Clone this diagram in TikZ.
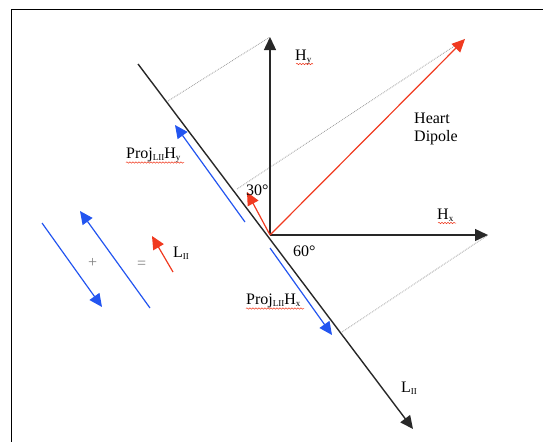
\documentclass[tikz,border=0pt]{standalone}
\usepackage{fontspec}
\setmainfont{Liberation Serif}
\usetikzlibrary{arrows.meta,decorations.pathmorphing}
\definecolor{myred}{RGB}{240,58,32}
\definecolor{myblue}{RGB}{35,85,240}
\definecolor{axisgray}{RGB}{40,40,40}
\newcommand{\sbx}[1]{\raisebox{-0.35ex}{\fontsize{9}{9}\selectfont #1}}
\begin{document}
\begin{tikzpicture}[x=1pt,y=-1pt,
  tip/.style={-{Triangle[length=13pt,width=12pt]}},
  axisline/.style={draw=axisgray,line width=1.4pt,tip},
  redvec/.style={draw=myred,line width=1.2pt,-{Triangle[length=13pt,width=12pt]},myred},
  bluevec/.style={draw=myblue,line width=1.2pt,-{Triangle[length=13pt,width=12pt]},myblue},
  projline/.style={draw=gray!80,line width=0.8pt,densely dotted},
  lbl/.style={font=\fontsize{16}{18}\selectfont,inner sep=0pt,anchor=base west},
  wavy/.style={draw=myred,line width=0.5pt,decorate,decoration={snake,segment length=3pt,amplitude=0.7pt}}]
\useasboundingbox (0,0) rectangle (543,442);
% frame
\draw[line width=1.3pt] (543,9.5) -- (11.5,9.5) -- (11.5,442);
% coordinates
\coordinate (O) at (270,235);
\coordinate (Hy) at (270,37);
\coordinate (Hx) at (488,235);
\coordinate (Ltop) at (138,64);
\coordinate (Lbot) at (413,429);
\coordinate (Dtip) at (465,39);
\coordinate (Rs) at (247,192);
\coordinate (BYa) at (245,222);
\coordinate (BYb) at (175,125);
\coordinate (BXa) at (270,248);
\coordinate (BXb) at (332,335);
\coordinate (P1) at (168,101);
\coordinate (P2) at (237,189);
\coordinate (P3) at (342,332);
% projection lines
\draw[projline] (P1) -- (Hy);
\draw[projline] (P2) -- (Dtip);
\draw[projline] (P3) -- (Hx);
% axes
\draw[axisline] (O) -- (Hy);
\draw[axisline] (O) -- (Hx);
\draw[axisline] (Ltop) -- (Lbot);
% vectors
\draw[redvec] (O) -- (Dtip);
\draw[redvec] (O) -- (Rs);
\draw[bluevec] (BYa) -- (BYb);
\draw[bluevec] (BXa) -- (BXb);
% labels
\node[lbl] (hy) at (295,60) {H\sbx{y}};
\node[lbl] (hx) at (437,219) {H\sbx{x}};
\node[lbl] (heart) at (414,123) {Heart};
\node[lbl] (dipole) at (414,141) {Dipole};
\node[lbl] (a30) at (246,195) {30°};
\node[lbl] (a60) at (293,256) {60°};
\node[lbl] (pyl) at (126,158) {Proj\sbx{LII}H\sbx{y}};
\node[lbl] (pxl) at (246,304) {Proj\sbx{LII}H\sbx{x}};
\node[lbl] (ll) at (401,392) {L\sbx{II}};
% spelling underlines
\draw[wavy] (126,162.5) -- (184,162.5);
\draw[wavy] (246,308.5) -- (304,308.5);
\draw[wavy] (296,64) -- (313,64);
\draw[wavy] (438,223) -- (456,223);
% left legend
\coordinate (La) at (42,223);
\coordinate (Lb) at (102,307);
\coordinate (Ma) at (150,308);
\coordinate (Mb) at (80,211);
\coordinate (Ra) at (173,272);
\coordinate (Rb) at (152,236);
\draw[bluevec] (La) -- (Lb);
\draw[bluevec] (Ma) -- (Mb);
\draw[redvec] (Ra) -- (Rb);
\node[lbl,text=gray] (plus) at (88,267) {+};
\node[lbl,text=gray] (eq) at (137,268) {=};
\node[lbl] (ll2) at (173,257) {L\sbx{II}};
\end{tikzpicture}
\end{document}
